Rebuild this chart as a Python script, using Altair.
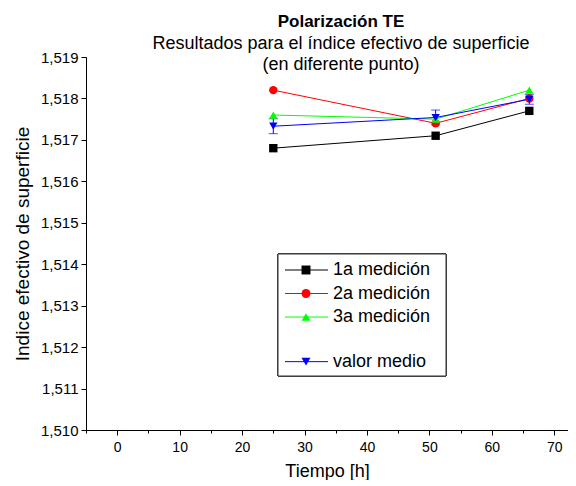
import altair as alt
import pandas as pd

# ---- data ----
time_h = [25, 51, 66]
series_names = ["1a medición", "2a medición", "3a medición", "valor medio"]
m1 = [1.5168, 1.5171, 1.5177]
m2 = [1.5182, 1.5174, 1.5180]
m3 = [1.5176, 1.5175, 1.5182]
mean_v = [1.51733, 1.51754, 1.51798]
mean_err = [0.00018, 0.00018, 0.00012]

colors = ["#000000", "#FF0000", "#00FF00", "#0000FF"]
shapes = ["square", "circle", "triangle-up", "triangle-down"]

FONT = "Liberation Sans"

rows = []
for name, vals in zip(series_names, [m1, m2, m3, mean_v]):
    for t, v in zip(time_h, vals):
        rows.append({"serie": name, "t": t, "v": v})
df = pd.DataFrame(rows)

err_df = pd.DataFrame({
    "serie": series_names[3],
    "t": time_h,
    "v": [m - e for m, e in zip(mean_v, mean_err)],
    "hi": [m + e for m, e in zip(mean_v, mean_err)],
})

color_scale = alt.Scale(domain=series_names, range=colors)
shape_scale = alt.Scale(domain=series_names, range=shapes)

x_vals = [v for v in range(-5, 71, 5)]
y_vals = [round(1.510 + i * 0.0005, 4) for i in range(19)]

x_major = "abs(datum.value/10 - round(datum.value/10)) < 0.01"
y_major = "abs(datum.value*1000 - round(datum.value*1000)) < 0.01"

x_axis = alt.Axis(
    values=x_vals, grid=False, title="Tiempo [h]",
    labelExpr=f"{x_major} ? format(datum.value, 'd') : ''",
    tickSize={"condition": {"test": x_major, "value": 5}, "value": 3},
    domainColor="black", tickColor="black", labelColor="black", titleColor="black",
    labelFont=FONT, titleFont=FONT, labelFontSize=14, titleFontSize=18,
    titleFontWeight="normal", labelPadding=5, titlePadding=8, labelOverlap=False,
)
y_axis = alt.Axis(
    values=y_vals, grid=False, title="Indice efectivo de superficie",
    labelExpr=f"{y_major} ? replace(format(datum.value, '.3f'), '.', ',') : ''",
    tickSize={"condition": {"test": y_major, "value": 5}, "value": 3},
    domainColor="black", tickColor="black", labelColor="black", titleColor="black",
    labelFont=FONT, titleFont=FONT, labelFontSize=15, titleFontSize=19,
    titleFontWeight="normal", labelPadding=3, titlePadding=8, labelOverlap=False,
)

X = alt.X("t:Q", scale=alt.Scale(domain=[-5, 72.2], nice=False, zero=False), axis=x_axis)
Y = alt.Y("v:Q", scale=alt.Scale(domain=[1.510, 1.519], nice=False, zero=False), axis=y_axis)

base = alt.Chart(df)
lines = base.mark_line(strokeWidth=1).encode(
    x=X, y=Y,
    color=alt.Color("serie:N", scale=color_scale, legend=None),
    detail="serie:N",
)
points = base.mark_point(filled=True, size=70, opacity=1).encode(
    x=X, y=Y,
    color=alt.Color("serie:N", scale=color_scale, legend=None),
    shape=alt.Shape("serie:N", scale=shape_scale, legend=None),
)
err_rule = alt.Chart(err_df).mark_rule(color="#0000FF", strokeWidth=1).encode(
    x=X, y=Y, y2="hi:Q"
)
cap_lo = alt.Chart(err_df).mark_tick(color="#0000FF", orient="horizontal", size=9, thickness=1).encode(
    x=X, y=Y
)
cap_hi = alt.Chart(err_df).mark_tick(color="#0000FF", orient="horizontal", size=9, thickness=1).encode(
    x=X, y=alt.Y("hi:Q")
)

# ---- manual legend (pixel layout computed from row index) ----
row_slots = [0, 1, 2, 3.9]
leg_df = pd.DataFrame({"serie": series_names, "py": [213 + k * 23.5 for k in row_slots]})

leg_box = alt.Chart(leg_df).mark_rect(fill="white", stroke="#333333", strokeWidth=1).encode(
    x=alt.value(192), x2=alt.value(360), y=alt.value(197), y2=alt.value(319)
)
leg_line = alt.Chart(leg_df).mark_rule(strokeWidth=1).encode(
    x=alt.value(199), x2=alt.value(242),
    y=alt.Y("py:Q", scale=None),
    color=alt.Color("serie:N", scale=color_scale, legend=None),
)
leg_pt = alt.Chart(leg_df).mark_point(filled=True, size=80, opacity=1).encode(
    x=alt.value(220),
    y=alt.Y("py:Q", scale=None),
    color=alt.Color("serie:N", scale=color_scale, legend=None),
    shape=alt.Shape("serie:N", scale=shape_scale, legend=None),
)
leg_txt = alt.Chart(leg_df).mark_text(align="left", baseline="middle", fontSize=18, font=FONT, color="black").encode(
    x=alt.value(247),
    y=alt.Y("py:Q", scale=None),
    text="serie:N",
)

chart = alt.layer(
    lines, err_rule, cap_lo, cap_hi, points, leg_box, leg_line, leg_pt, leg_txt
).properties(
    width=482, height=373,
    padding={"left": 5, "top": 5, "right": 0, "bottom": 0},
    title=alt.TitleParams(
        text="Polarización TE",
        subtitle=["Resultados para el índice efectivo de superficie", "(en diferente punto)"],
        font=FONT, fontSize=17, fontWeight="bold", color="black",
        subtitleFont=FONT, subtitleFontSize=18, subtitleColor="black",
        subtitlePadding=4, subtitleLineHeight=21,
        anchor="middle", dx=14, offset=-25,
    ),
    background="white",
).configure_view(stroke=None)

chart.save("out.html", embed_options={"renderer": "svg", "actions": False})
